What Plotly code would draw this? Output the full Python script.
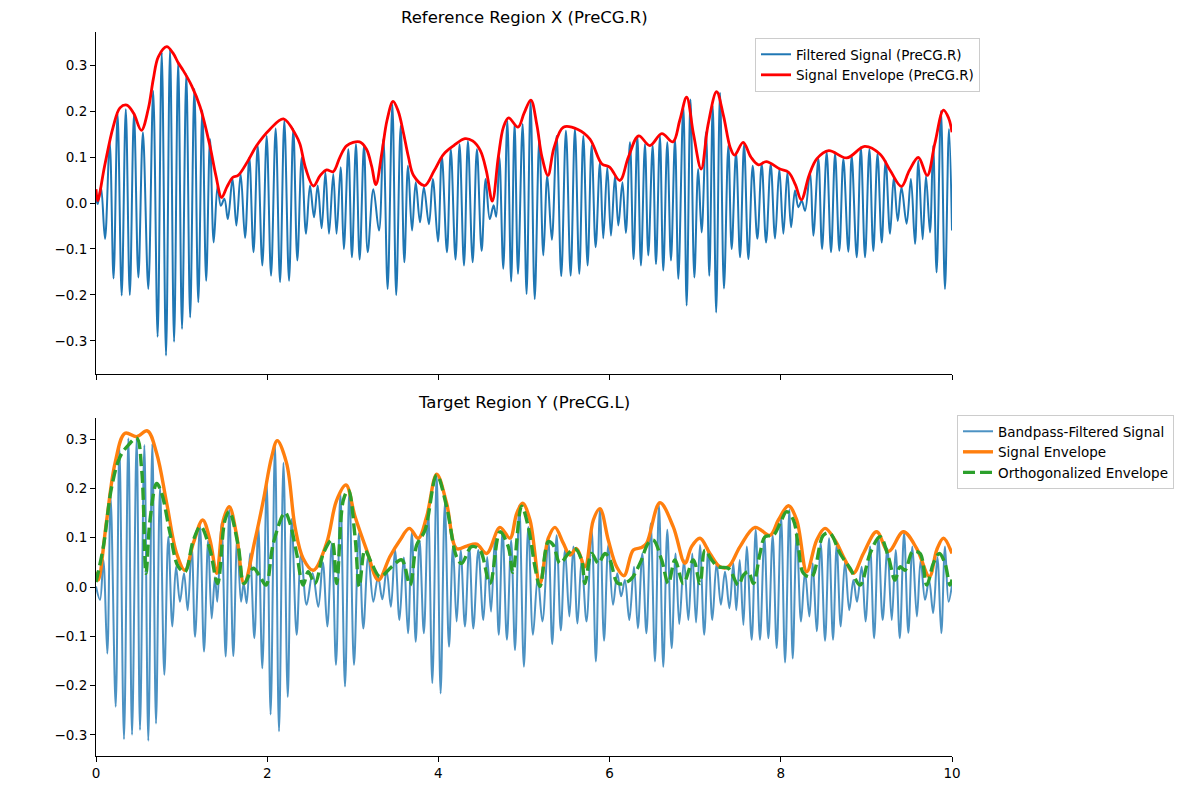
import plotly.graph_objects as go
from plotly.subplots import make_subplots

# ---------------- data ----------------
x_ticks = [0, 2, 4, 6, 8, 10]
y_ticks = [-0.3, -0.2, -0.1, 0.0, 0.1, 0.2, 0.3]

top_title = "Reference Region X (PreCG.R)"
bot_title = "Target Region Y (PreCG.L)"

# Top panel: filtered signal, successive extrema (time s, value)
top_sig_t = [0.000, 0.020, 0.058, 0.105, 0.160, 0.205, 0.252, 0.300, 0.348, 0.395,
             0.444, 0.495, 0.548, 0.611, 0.668, 0.720, 0.768, 0.818, 0.865, 0.912,
             0.960, 1.005, 1.055, 1.100, 1.149, 1.195, 1.242, 1.287, 1.332, 1.375,
             1.421, 1.458, 1.500, 1.540, 1.595, 1.640, 1.690, 1.741, 1.791, 1.840,
             1.889, 1.943, 1.994, 2.045, 2.099, 2.150, 2.200, 2.255, 2.305, 2.352,
             2.403, 2.453, 2.500, 2.547, 2.590, 2.636, 2.680, 2.722, 2.772, 2.810,
             2.858, 2.895, 2.948, 2.990, 3.037, 3.080, 3.131, 3.174, 3.240, 3.306,
             3.357, 3.407, 3.462, 3.507, 3.559, 3.602, 3.645, 3.692, 3.735, 3.785,
             3.830, 3.890, 3.935, 3.995, 4.040, 4.100, 4.145, 4.200, 4.247, 4.299,
             4.345, 4.400, 4.450, 4.505, 4.552, 4.600, 4.645, 4.675, 4.712, 4.758,
             4.805, 4.850, 4.890, 4.930, 4.984, 5.030, 5.077, 5.125, 5.179, 5.226,
             5.272, 5.325, 5.381, 5.435, 5.490, 5.545, 5.595, 5.646, 5.693, 5.743,
             5.790, 5.837, 5.887, 5.926, 5.973, 6.016, 6.063, 6.102, 6.150, 6.190,
             6.238, 6.280, 6.324, 6.366, 6.413, 6.452, 6.503, 6.542, 6.588, 6.627,
             6.674, 6.717, 6.764, 6.803, 6.861, 6.900, 6.945, 6.990, 7.035, 7.075,
             7.126, 7.165, 7.205, 7.245, 7.290, 7.336, 7.387, 7.426, 7.477, 7.524,
             7.571, 7.621, 7.672, 7.726, 7.777, 7.828, 7.882, 7.933, 7.983, 8.030,
             8.077, 8.120, 8.166, 8.205, 8.244, 8.283, 8.342, 8.380, 8.439, 8.482,
             8.536, 8.587, 8.634, 8.684, 8.731, 8.789, 8.828, 8.887, 8.935, 8.984,
             9.035, 9.081, 9.130, 9.179, 9.225, 9.276, 9.320, 9.366, 9.410, 9.470,
             9.520, 9.568, 9.607, 9.657, 9.696, 9.743, 9.780, 9.820, 9.871, 9.918,
             9.965, 10.000]
top_sig_v = [0.010, -0.002, 0.035, -0.078, 0.132, -0.164, 0.194, -0.201, 0.204, -0.200,
             0.194, -0.162, 0.154, -0.187, 0.244, -0.291, 0.328, -0.332, 0.335, -0.302,
             0.306, -0.274, 0.280, -0.249, 0.248, -0.216, 0.201, -0.169, 0.139, -0.086,
             0.038, -0.006, 0.009, -0.035, 0.052, -0.049, 0.063, -0.076, 0.099, -0.107,
             0.125, -0.136, 0.146, -0.158, 0.162, -0.172, 0.179, -0.169, 0.161, -0.125,
             0.099, -0.067, 0.038, -0.031, 0.038, -0.055, 0.067, -0.067, 0.063, -0.067,
             0.078, -0.100, 0.117, -0.118, 0.128, -0.123, 0.125, -0.107, 0.030, -0.060,
             0.139, -0.187, 0.215, -0.200, 0.168, -0.129, 0.081, -0.060, 0.045, -0.042,
             0.034, -0.046, 0.052, -0.084, 0.103, -0.107, 0.117, -0.123, 0.128, -0.136,
             0.135, -0.129, 0.117, -0.104, 0.052, -0.035, -0.005, -0.030, 0.100, -0.143,
             0.179, -0.171, 0.172, -0.154, 0.172, -0.198, 0.222, -0.209, 0.139, -0.114,
             0.060, -0.080, 0.146, -0.159, 0.157, -0.158, 0.161, -0.154, 0.146, -0.136,
             0.125, -0.096, 0.088, -0.077, 0.078, -0.071, 0.059, -0.049, 0.045, -0.065,
             0.132, -0.122, 0.146, -0.136, 0.128, -0.114, 0.125, -0.133, 0.146, -0.147,
             0.132, -0.125, 0.139, -0.165, 0.212, -0.223, 0.225, -0.162, 0.074, -0.064,
             0.154, -0.158, 0.212, -0.238, 0.240, -0.186, 0.125, -0.100, 0.110, -0.118,
             0.128, -0.122, 0.081, -0.078, 0.085, -0.086, 0.085, -0.077, 0.074, -0.067,
             0.067, -0.053, 0.027, -0.009, 0.005, -0.017, 0.067, -0.071, 0.096, -0.100,
             0.110, -0.107, 0.107, -0.104, 0.096, -0.106, 0.103, -0.118, 0.121, -0.118,
             0.117, -0.104, 0.107, -0.086, 0.092, -0.067, 0.056, -0.039, 0.034, -0.045,
             0.052, -0.089, 0.092, -0.079, 0.059, -0.064, 0.125, -0.151, 0.200, -0.187,
             0.161, -0.060]

# Top panel: signal envelope
top_env_t = [0.00, 0.02, 0.10, 0.20, 0.28, 0.36, 0.44, 0.53, 0.611, 0.67,
             0.728, 0.826, 0.90, 0.96, 1.02, 1.118, 1.215, 1.33, 1.40, 1.468,
             1.53, 1.60, 1.66, 1.77, 1.877, 2.03, 2.19, 2.34, 2.383, 2.45,
             2.54, 2.62, 2.695, 2.77, 2.85, 2.93, 3.08, 3.16, 3.22, 3.27,
             3.34, 3.40, 3.47, 3.53, 3.59, 3.65, 3.71, 3.84, 3.95, 4.06,
             4.18, 4.31, 4.40, 4.49, 4.56, 4.63, 4.70, 4.76, 4.82, 4.93,
             5.00, 5.08, 5.15, 5.21, 5.28, 5.35, 5.46, 5.63, 5.77, 5.91,
             6.00, 6.12, 6.22, 6.34, 6.47, 6.61, 6.74, 6.82, 6.90, 6.98,
             7.07, 7.15, 7.25, 7.33, 7.41, 7.46, 7.56, 7.65, 7.74, 7.83,
             7.99, 8.09, 8.17, 8.24, 8.33, 8.42, 8.56, 8.77, 8.98, 9.16,
             9.28, 9.41, 9.50, 9.607, 9.71, 9.80, 9.90, 9.96, 10.00]
top_env_v = [0.030, 0.005, 0.080, 0.165, 0.207, 0.213, 0.195, 0.158, 0.205, 0.270,
             0.318, 0.340, 0.326, 0.305, 0.288, 0.255, 0.210, 0.125, 0.060, 0.012,
             0.035, 0.056, 0.060, 0.090, 0.125, 0.160, 0.183, 0.146, 0.128, 0.075,
             0.037, 0.060, 0.072, 0.068, 0.100, 0.125, 0.133, 0.117, 0.080, 0.040,
             0.110, 0.180, 0.221, 0.200, 0.154, 0.100, 0.060, 0.038, 0.070, 0.106,
             0.125, 0.140, 0.135, 0.114, 0.070, 0.004, 0.100, 0.165, 0.185, 0.165,
             0.195, 0.224, 0.170, 0.100, 0.060, 0.120, 0.165, 0.160, 0.139, 0.085,
             0.078, 0.049, 0.100, 0.146, 0.125, 0.151, 0.133, 0.180, 0.230, 0.150,
             0.074, 0.170, 0.242, 0.190, 0.120, 0.104, 0.132, 0.100, 0.083, 0.090,
             0.074, 0.067, 0.040, 0.007, 0.060, 0.096, 0.114, 0.098, 0.123, 0.106,
             0.070, 0.036, 0.070, 0.099, 0.060, 0.130, 0.202, 0.185, 0.154]

# Bottom panel: bandpass-filtered signal, successive extrema
bot_sig_t = [0.000, 0.047, 0.086, 0.132, 0.171, 0.230, 0.273, 0.327, 0.378, 0.421,
             0.475, 0.514, 0.565, 0.611, 0.658, 0.701, 0.748, 0.798, 0.845, 0.892,
             0.935, 0.981, 1.028, 1.071, 1.118, 1.157, 1.215, 1.262, 1.310, 1.351,
             1.390, 1.417, 1.465, 1.515, 1.557, 1.604, 1.650, 1.694, 1.725, 1.760,
             1.800, 1.850, 1.896, 1.943, 1.994, 2.040, 2.091, 2.138, 2.190, 2.240,
             2.286, 2.344, 2.395, 2.460, 2.530, 2.597, 2.650, 2.702, 2.755, 2.804,
             2.855, 2.909, 2.960, 3.014, 3.070, 3.123, 3.180, 3.240, 3.295, 3.345,
             3.395, 3.445, 3.493, 3.545, 3.595, 3.645, 3.690, 3.735, 3.780, 3.830,
             3.880, 3.929, 3.980, 4.026, 4.075, 4.124, 4.170, 4.213, 4.260, 4.310,
             4.360, 4.408, 4.466, 4.525, 4.570, 4.615, 4.661, 4.705, 4.750, 4.800,
             4.850, 4.895, 4.945, 4.999, 5.050, 5.105, 5.160, 5.215, 5.284, 5.330,
             5.381, 5.430, 5.479, 5.530, 5.576, 5.625, 5.673, 5.730, 5.790, 5.840,
             5.887, 5.935, 5.985, 6.040, 6.090, 6.135, 6.179, 6.230, 6.285, 6.330,
             6.382, 6.430, 6.480, 6.530, 6.577, 6.627, 6.674, 6.725, 6.771, 6.814,
             6.869, 6.920, 6.966, 7.010, 7.056, 7.105, 7.153, 7.200, 7.250, 7.300,
             7.348, 7.400, 7.445, 7.480, 7.520, 7.563, 7.602, 7.660, 7.707, 7.757,
             7.808, 7.855, 7.905, 7.952, 8.003, 8.050, 8.100, 8.139, 8.186, 8.236,
             8.283, 8.334, 8.373, 8.420, 8.466, 8.517, 8.564, 8.610, 8.653, 8.700,
             8.750, 8.800, 8.848, 8.890, 8.945, 8.990, 9.043, 9.090, 9.140, 9.190,
             9.245, 9.296, 9.342, 9.390, 9.440, 9.490, 9.537, 9.590, 9.634, 9.685,
             9.732, 9.780, 9.829, 9.875, 9.918, 9.960, 10.000]
bot_sig_v = [0.001, -0.026, 0.055, -0.135, 0.183, -0.243, 0.285, -0.309, 0.302, -0.300,
             0.302, -0.290, 0.288, -0.312, 0.291, -0.277, 0.203, -0.178, 0.102, -0.080,
             0.041, -0.030, 0.028, -0.047, 0.082, -0.101, 0.124, -0.131, 0.095, -0.064,
             0.020, -0.030, 0.130, -0.141, 0.157, -0.140, 0.100, -0.030, 0.007, -0.033,
             0.068, -0.104, 0.124, -0.165, 0.212, -0.259, 0.289, -0.293, 0.252, -0.223,
             0.138, -0.097, 0.068, -0.036, 0.028, -0.040, 0.050, -0.080, 0.089, -0.158,
             0.190, -0.202, 0.197, -0.158, 0.109, -0.084, 0.062, -0.030, 0.021, -0.025,
             0.034, -0.040, 0.075, -0.067, 0.060, -0.094, 0.110, -0.111, 0.095, -0.094,
             0.156, -0.195, 0.227, -0.216, 0.170, -0.121, 0.082, -0.070, 0.075, -0.080,
             0.082, -0.084, 0.075, -0.067, 0.061, -0.050, 0.102, -0.097, 0.116, -0.107,
             0.095, -0.128, 0.166, -0.162, 0.122, -0.097, 0.020, -0.070, 0.095, -0.116,
             0.105, -0.088, 0.075, -0.060, 0.082, -0.074, 0.055, -0.070, 0.116, -0.151,
             0.159, -0.109, 0.085, -0.036, 0.028, -0.019, 0.014, -0.067, 0.041, -0.084,
             0.068, -0.094, 0.129, -0.151, 0.166, -0.162, 0.116, -0.124, 0.068, -0.075,
             0.055, -0.067, 0.068, -0.072, 0.085, -0.097, 0.078, -0.067, 0.048, -0.036,
             0.031, -0.043, 0.048, -0.047, 0.055, -0.077, 0.082, -0.107, 0.116, -0.107,
             0.102, -0.104, 0.105, -0.124, 0.143, -0.153, 0.157, -0.145, 0.109, -0.070,
             0.031, -0.060, 0.048, -0.090, 0.089, -0.109, 0.099, -0.107, 0.085, -0.080,
             0.051, -0.047, 0.014, -0.030, 0.041, -0.070, 0.082, -0.104, 0.102, -0.067,
             0.078, -0.067, 0.075, -0.104, 0.109, -0.093, 0.082, -0.060, 0.055, -0.026,
             0.014, -0.053, 0.061, -0.094, 0.082, -0.030, 0.005]

# Bottom panel: signal envelope
bot_env_t = [0.000, 0.027, 0.125, 0.222, 0.339, 0.475, 0.600, 0.709, 0.826, 0.942,
             1.040, 1.137, 1.246, 1.332, 1.410, 1.488, 1.557, 1.643, 1.729, 1.857,
             1.955, 2.052, 2.118, 2.227, 2.325, 2.420, 2.539, 2.694, 2.811, 2.920,
             3.026, 3.162, 3.298, 3.434, 3.551, 3.660, 3.765, 3.863, 3.980, 4.096,
             4.213, 4.330, 4.447, 4.564, 4.719, 4.836, 4.914, 4.984, 5.070, 5.186,
             5.284, 5.362, 5.459, 5.537, 5.615, 5.712, 5.810, 5.887, 5.985, 6.082,
             6.168, 6.277, 6.374, 6.433, 6.588, 6.744, 6.880, 6.958, 7.056, 7.172,
             7.289, 7.387, 7.524, 7.699, 7.874, 7.972, 8.089, 8.186, 8.303, 8.419,
             8.517, 8.634, 8.750, 8.848, 8.965, 9.120, 9.257, 9.432, 9.588, 9.736,
             9.821, 9.900, 10.000]
bot_env_v = [0.031, 0.014, 0.136, 0.251, 0.312, 0.305, 0.317, 0.271, 0.170, 0.068,
             0.034, 0.089, 0.136, 0.095, 0.028, 0.136, 0.163, 0.105, 0.007, 0.095,
             0.176, 0.264, 0.297, 0.251, 0.122, 0.058, 0.034, 0.089, 0.176, 0.207,
             0.143, 0.075, 0.014, 0.062, 0.095, 0.119, 0.099, 0.143, 0.229, 0.170,
             0.078, 0.083, 0.087, 0.068, 0.121, 0.099, 0.149, 0.170, 0.136, 0.007,
             0.099, 0.121, 0.089, 0.065, 0.078, 0.041, 0.136, 0.159, 0.095, 0.041,
             0.023, 0.075, 0.080, 0.089, 0.171, 0.122, 0.048, 0.082, 0.099, 0.068,
             0.041, 0.041, 0.082, 0.121, 0.105, 0.136, 0.165, 0.136, 0.031, 0.095,
             0.119, 0.095, 0.055, 0.028, 0.068, 0.112, 0.072, 0.112, 0.078, 0.021,
             0.075, 0.099, 0.068]

# Bottom panel: orthogonalized envelope
bot_orth_t = [0.000, 0.086, 0.183, 0.280, 0.378, 0.475, 0.534, 0.584, 0.631, 0.709,
              0.767, 0.865, 0.962, 1.040, 1.137, 1.223, 1.332, 1.420, 1.507, 1.557,
              1.663, 1.729, 1.838, 1.916, 1.986, 2.072, 2.208, 2.267, 2.344, 2.420,
              2.480, 2.558, 2.656, 2.753, 2.811, 2.889, 2.948, 3.026, 3.076, 3.142,
              3.220, 3.318, 3.454, 3.571, 3.668, 3.746, 3.843, 3.980, 4.096, 4.213,
              4.272, 4.388, 4.485, 4.602, 4.719, 4.816, 4.870, 4.972, 5.050, 5.128,
              5.186, 5.284, 5.342, 5.420, 5.518, 5.595, 5.673, 5.712, 5.790, 5.868,
              5.946, 6.004, 6.101, 6.238, 6.355, 6.452, 6.511, 6.608, 6.686, 6.764,
              6.861, 6.978, 7.056, 7.114, 7.192, 7.270, 7.387, 7.504, 7.563, 7.621,
              7.680, 7.757, 7.816, 7.913, 7.991, 8.069, 8.147, 8.205, 8.264, 8.361,
              8.497, 8.575, 8.692, 8.809, 8.926, 9.043, 9.159, 9.257, 9.334, 9.393,
              9.451, 9.541, 9.627, 9.705, 9.782, 9.852, 9.918, 9.977, 10.000]
bot_orth_v = [0.010, 0.082, 0.203, 0.264, 0.288, 0.302, 0.237, 0.028, 0.136, 0.210,
              0.190, 0.109, 0.041, 0.031, 0.095, 0.123, 0.075, 0.007, 0.136, 0.153,
              0.082, 0.007, 0.038, 0.021, 0.004, 0.089, 0.151, 0.129, 0.068, 0.004,
              0.031, 0.007, 0.068, 0.095, 0.007, 0.176, 0.197, 0.102, 0.001, 0.075,
              0.048, 0.021, 0.041, 0.055, 0.004, 0.085, 0.115, 0.227, 0.163, 0.061,
              0.048, 0.082, 0.075, 0.007, 0.112, 0.082, 0.030, 0.164, 0.122, 0.041,
              0.001, 0.092, 0.085, 0.048, 0.068, 0.078, 0.055, 0.007, 0.068, 0.048,
              0.068, 0.055, 0.007, 0.014, 0.048, 0.089, 0.095, 0.055, 0.007, 0.055,
              0.007, 0.055, 0.007, 0.075, 0.055, 0.041, 0.038, 0.004, 0.024, 0.031,
              0.007, 0.068, 0.102, 0.105, 0.129, 0.153, 0.136, 0.082, 0.028, 0.021,
              0.105, 0.109, 0.068, 0.038, 0.004, 0.068, 0.102, 0.061, 0.014, 0.041,
              0.034, 0.072, 0.068, 0.004, 0.048, 0.068, 0.048, 0.004, 0.015]

# ---------------- figure ----------------
FONT = "DejaVu Sans"
W, H = 1192, 790
OFF = 8  # page body margin offset in the browser
ML, MT = 96 - OFF, 32 - OFF
PW = 856
MR = W - ML - PW
MB = H - (756 - OFF)
plot_h = H - MT - MB
top_dom = [(756 - 374) / plot_h, 1.0]
bot_dom = [0.0, (756 - 418) / plot_h]

fig = make_subplots(rows=2, cols=1, shared_xaxes=True, vertical_spacing=0.05)

fig.add_trace(go.Scatter(x=top_sig_t, y=top_sig_v, mode="lines",
                         line=dict(color="#1f77b4", width=2, shape="spline", smoothing=1.0),
                         name="Filtered Signal (PreCG.R)", legend="legend"), row=1, col=1)
fig.add_trace(go.Scatter(x=top_env_t, y=top_env_v, mode="lines",
                         line=dict(color="red", width=2.8, shape="spline", smoothing=1.0),
                         name="Signal Envelope (PreCG.R)", legend="legend"), row=1, col=1)

fig.add_trace(go.Scatter(x=bot_sig_t, y=bot_sig_v, mode="lines",
                         line=dict(color="rgba(31,119,180,0.8)", width=2, shape="spline", smoothing=1.0),
                         name="Bandpass-Filtered Signal", legend="legend2"), row=2, col=1)
fig.add_trace(go.Scatter(x=bot_env_t, y=bot_env_v, mode="lines",
                         line=dict(color="#ff7f0e", width=3.4, shape="spline", smoothing=1.0),
                         name="Signal Envelope", legend="legend2"), row=2, col=1)
fig.add_trace(go.Scatter(x=bot_orth_t, y=bot_orth_v, mode="lines",
                         line=dict(color="#2ca02c", width=3.4, dash="12px,5px", shape="spline", smoothing=1.0),
                         name="Orthogonalized Envelope", legend="legend2"), row=2, col=1)

axis_common = dict(showline=True, linecolor="black", linewidth=1.1, ticks="outside",
                   ticklen=5, tickwidth=1.1, tickcolor="black", showgrid=False,
                   zeroline=False, tickfont=dict(family=FONT, size=13.5, color="black"))

fig.update_xaxes(range=[0, 10], tickvals=x_ticks, ticktext=[str(v) for v in x_ticks], **axis_common)
fig.update_xaxes(showticklabels=False, domain=[0, 1], row=1, col=1)
fig.update_xaxes(domain=[0, 1], row=2, col=1)
fig.update_yaxes(tickvals=y_ticks, ticktext=[("\u2212" if v < 0 else "") + f"{abs(v):.1f}" for v in y_ticks],
                 **axis_common)
fig.update_yaxes(range=[-0.372, 0.372], domain=top_dom, row=1, col=1)
fig.update_yaxes(range=[-0.343, 0.343], domain=bot_dom, row=2, col=1)

fig.update_layout(
    width=W, height=H,
    margin=dict(l=ML, r=MR, t=MT, b=MB),
    plot_bgcolor="white", paper_bgcolor="white",
    font=dict(family=FONT, size=13.5, color="black"),
    annotations=[
        dict(text=top_title, x=0.5, y=(756 - 18) / plot_h, xref="paper", yref="paper",
             showarrow=False, font=dict(family=FONT, size=16.5, color="black"),
             xanchor="center", yanchor="middle"),
        dict(text=bot_title, x=0.5, y=(756 - 402) / plot_h, xref="paper", yref="paper",
             showarrow=False, font=dict(family=FONT, size=16.5, color="black"),
             xanchor="center", yanchor="middle"),
    ],
    legend=dict(x=(755 - 96) / PW, y=(756 - 38) / plot_h, xanchor="left", yanchor="top",
                bgcolor="rgba(255,255,255,0.8)", bordercolor="#cccccc", borderwidth=1,
                font=dict(family=FONT, size=13.5), tracegroupgap=0, itemwidth=30),
    legend2=dict(x=(957 - 96) / PW, y=(756 - 415) / plot_h, xanchor="left", yanchor="top",
                 bgcolor="rgba(255,255,255,0.8)", bordercolor="#cccccc", borderwidth=1,
                 font=dict(family=FONT, size=13.5), tracegroupgap=0, itemwidth=30),
)

fig.write_html("out.html")
